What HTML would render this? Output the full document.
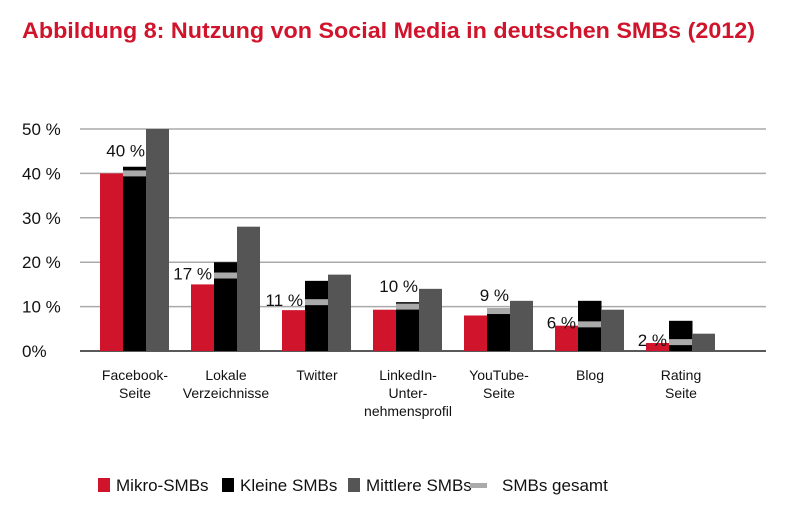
<!DOCTYPE html>
<html><head><meta charset="utf-8"><style>
html,body{margin:0;padding:0;background:#fff;}
svg{display:block;font-family:"Liberation Sans",sans-serif;}
</style></head><body>
<svg id="chart" width="800" height="516" viewBox="0 0 800 516">
<text x="22" y="38" font-size="22" font-weight="bold" fill="#d0142c" textLength="733" lengthAdjust="spacingAndGlyphs">Abbildung 8: Nutzung von Social Media in deutschen SMBs (2012)</text>
<g id="grid"></g><g id="bars"></g><g id="xlabels"></g>
<g font-size="17" fill="#111">
<rect x="98" y="478" width="12" height="14" fill="#d0142c"/>
<text x="116" y="491">Mikro-SMBs</text>
<rect x="222" y="478" width="12" height="14" fill="#000"/>
<text x="240" y="491">Kleine SMBs</text>
<rect x="348" y="478" width="12" height="14" fill="#555"/>
<text x="366" y="491">Mittlere SMBs</text>
<rect x="470" y="483" width="17" height="5" fill="#aaa"/>
<text x="502" y="491">SMBs gesamt</text>
</g>
</svg>
<script>
const categories=[["Facebook-","Seite"],["Lokale","Verzeichnisse"],["Twitter"],["LinkedIn-","Unter-","nehmensprofil"],["YouTube-","Seite"],["Blog"],["Rating","Seite"]];
const mikro=[40,15,9.2,9.3,8,5.7,1.8];
const kleine=[41.5,20,15.8,11,9,11.3,6.8];
const mittlere=[50,28,17.2,14,11.3,9.3,3.9];
const gesamt=[40,17,11,10,9,6,2];
const totalLabels=["40 %","17 %","11 %","10 %","9 %","6 %","2 %"];
const yTicks=[0,10,20,30,40,50];
const yTickLabels=["0%","10 %","20 %","30 %","40 %","50 %"];
const NS="http://www.w3.org/2000/svg";
const y0=351,pxPer=4.44;
const y=v=>y0-v*pxPer;
const gx=i=>100+i*91;
const bw=23;
function mk(tag,attrs,parent){const e=document.createElementNS(NS,tag);for(const k in attrs)e.setAttribute(k,attrs[k]);parent.appendChild(e);return e;}
const grid=document.getElementById('grid'),bars=document.getElementById('bars'),xl=document.getElementById('xlabels');
yTicks.forEach((t,i)=>{
 if(t>0){const l=mk('line',{x1:80,x2:766,y1:y(t),y2:y(t),stroke:'#aaa','stroke-width':1.5},grid);
 
 }
 const tx=mk('text',{x:22,y:y(t)+6,'font-size':17,fill:'#111'},grid);
 tx.textContent=yTickLabels[i];
 
 
});
categories.forEach((c,i)=>{
 const x=gx(i);
 const r=mk('rect',{x:x,y:y(mikro[i]),width:bw+0.5,height:mikro[i]*pxPer,fill:'#d0142c'},bars);
 
 
 const b=mk('rect',{x:x+bw,y:y(kleine[i]),width:bw+0.5,height:kleine[i]*pxPer,fill:'#000'},bars);
 
 
 const g=mk('rect',{x:x+2*bw,y:y(mittlere[i]),width:bw,height:mittlere[i]*pxPer,fill:'#555'},bars);
 
 
 const m=mk('rect',{x:x+bw,y:y(gesamt[i])-3,width:bw,height:6,fill:'#aaa'},bars);
 
 
 let lx,ly;
 if(kleine[i]>gesamt[i]+2.5){lx=x+bw-2;ly=y(gesamt[i])+4;}else{lx=x+bw+22;ly=Math.min(y(gesamt[i]),y(kleine[i]))-10;}
 const lt=mk('text',{x:lx,y:ly,'font-size':17,fill:'#111','text-anchor':'end'},bars);
 lt.textContent=totalLabels[i];
 
 
 c.forEach((s,j)=>{
  const t=mk('text',{x:x+35,y:380+j*18,'font-size':14,fill:'#111','text-anchor':'middle'},xl);
  t.textContent=s;
  
  
 });
});
const base=mk('line',{x1:80,x2:766,y1:y0,y2:y0,stroke:'#222','stroke-width':1.5},grid);


</script>
</body></html>
